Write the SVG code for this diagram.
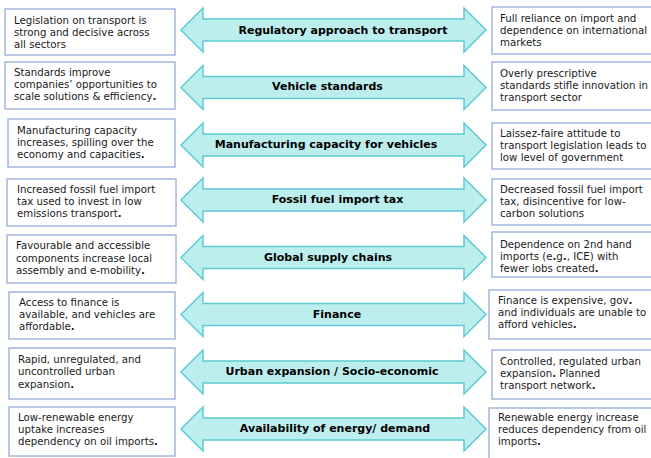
<svg xmlns="http://www.w3.org/2000/svg" width="651" height="458" viewBox="0 0 651 458">
<defs>
<style>
.bg{fill:#ffffff}
.box{fill:#ffffff;stroke:#a3b7e0;stroke-width:1.5}
.arr{fill:#bdeeee;stroke:#5ccbd3;stroke-width:1.5;stroke-linejoin:miter}
.t{font-family:"DejaVu Sans","Liberation Sans",sans-serif;font-size:10.2px;fill:#1a1a1a}
.lbl{font-family:"DejaVu Sans","Liberation Sans",sans-serif;font-size:11px;font-weight:bold;fill:#000000;text-anchor:middle}
.b{font-weight:bold}
</style>
<path id="dbl" d="M181,0 L203,-22 L203,-11 L464,-11 L464,-22 L486,0 L464,22 L464,11 L203,11 L203,22 Z"/>
</defs>
<rect class="bg" x="0" y="0" width="651" height="458"/>
<g id="connectors">
<use href="#dbl" class="arr" transform="translate(0,30)"/>
<use href="#dbl" class="arr" transform="translate(0,87.5)"/>
<use href="#dbl" class="arr" transform="translate(0,145)"/>
<use href="#dbl" class="arr" transform="translate(0,200)"/>
<use href="#dbl" class="arr" transform="translate(0,257.5)"/>
<use href="#dbl" class="arr" transform="translate(0,314.5)"/>
<use href="#dbl" class="arr" transform="translate(0,372)"/>
<use href="#dbl" class="arr" transform="translate(0,429)"/>
<text class="lbl" x="343" y="34">Regulatory approach to transport</text>
<text class="lbl" x="327.5" y="90">Vehicle standards</text>
<text class="lbl" x="326" y="148">Manufacturing capacity for vehicles</text>
<text class="lbl" x="337.5" y="203">Fossil fuel import tax</text>
<text class="lbl" x="328" y="260.5">Global supply chains</text>
<text class="lbl" x="337" y="317.5">Finance</text>
<text class="lbl" x="332" y="375">Urban expansion / Socio-economic</text>
<text class="lbl" x="335" y="432">Availability of energy/ demand</text>
</g>
<g id="left1"><rect class="box" x="5" y="9" width="170" height="46"/>
<text class="t"><tspan x="14" y="24">Legislation on transport is</tspan><tspan x="14" y="36">strong and decisive across</tspan><tspan x="14" y="47.5">all sectors</tspan></text></g>
<g id="left2"><rect class="box" x="5" y="62" width="170" height="47"/>
<text class="t"><tspan x="14" y="76">Standards improve</tspan><tspan x="14" y="88">companies’ opportunities to</tspan><tspan x="14" y="100">scale solutions &amp; efficiency<tspan class="b">.</tspan></tspan></text></g>
<g id="left3"><rect class="box" x="8" y="119" width="167" height="48"/>
<text class="t"><tspan x="17" y="133.5">Manufacturing capacity</tspan><tspan x="17" y="146">increases, spilling over the</tspan><tspan x="17" y="158">economy and capacities<tspan class="b">.</tspan></tspan></text></g>
<g id="left4"><rect class="box" x="7" y="179" width="169" height="47"/>
<text class="t"><tspan x="17" y="193">Increased fossil fuel import</tspan><tspan x="17" y="205">tax used to invest in low</tspan><tspan x="17" y="217">emissions transport<tspan class="b">.</tspan></tspan></text></g>
<g id="left5"><rect class="box" x="7" y="235" width="169" height="48"/>
<text class="t"><tspan x="16" y="249">Favourable and accessible</tspan><tspan x="16" y="261.5">components increase local</tspan><tspan x="16" y="274">assembly and e-mobility<tspan class="b">.</tspan></tspan></text></g>
<g id="left6"><rect class="box" x="9" y="292" width="166" height="47"/>
<text class="t"><tspan x="19" y="305.5">Access to finance is</tspan><tspan x="19" y="318">available, and vehicles are</tspan><tspan x="19" y="330">affordable<tspan class="b">.</tspan></tspan></text></g>
<g id="left7"><rect class="box" x="9" y="348" width="166" height="51"/>
<text class="t"><tspan x="18" y="363">Rapid, unregulated, and</tspan><tspan x="18" y="375">uncontrolled urban</tspan><tspan x="18" y="387.5">expansion<tspan class="b">.</tspan></tspan></text></g>
<g id="left8"><rect class="box" x="9" y="407" width="166" height="49"/>
<text class="t"><tspan x="18" y="421">Low-renewable energy</tspan><tspan x="18" y="433">uptake increases</tspan><tspan x="18" y="445">dependency on oil imports<tspan class="b">.</tspan></tspan></text></g>
<g id="right1"><rect class="box" x="492" y="7" width="170" height="47"/>
<text class="t"><tspan x="500" y="22">Full reliance on import and</tspan><tspan x="500" y="34">dependence on international</tspan><tspan x="500" y="46">markets</tspan></text></g>
<g id="right2"><rect class="box" x="492" y="62" width="170" height="48"/>
<text class="t"><tspan x="500" y="77">Overly prescriptive</tspan><tspan x="500" y="89">standards stifle innovation in</tspan><tspan x="500" y="101">transport sector</tspan></text></g>
<g id="right3"><rect class="box" x="492" y="123" width="170" height="46"/>
<text class="t"><tspan x="500" y="136.5">Laissez-faire attitude to</tspan><tspan x="500" y="148.5">transport legislation leads to</tspan><tspan x="500" y="161">low level of government</tspan></text></g>
<g id="right4"><rect class="box" x="492" y="179" width="170" height="46"/>
<text class="t"><tspan x="500" y="192.5">Decreased fossil fuel import</tspan><tspan x="500" y="204.5">tax, disincentive for low-</tspan><tspan x="500" y="217">carbon solutions</tspan></text></g>
<g id="right5"><rect class="box" x="492" y="232" width="170" height="45"/>
<text class="t"><tspan x="500" y="247.5">Dependence on 2nd hand</tspan><tspan x="500" y="260">imports (e<tspan class="b">.</tspan>g<tspan class="b">.</tspan>, ICE) with</tspan><tspan x="500" y="272">fewer iobs created<tspan class="b">.</tspan></tspan></text></g>
<g id="right6"><rect class="box" x="489" y="290" width="173" height="49"/>
<text class="t"><tspan x="498" y="303.5">Finance is expensive, gov<tspan class="b">.</tspan></tspan><tspan x="498" y="315.5">and individuals are unable to</tspan><tspan x="498" y="328">afford vehicles<tspan class="b">.</tspan></tspan></text></g>
<g id="right7"><rect class="box" x="492" y="350" width="170" height="49"/>
<text class="t"><tspan x="500" y="365">Controlled, regulated urban</tspan><tspan x="500" y="376.5">expansion<tspan class="b">.</tspan> Planned</tspan><tspan x="500" y="388.5">transport network<tspan class="b">.</tspan></tspan></text></g>
<g id="right8"><rect class="box" x="489" y="408" width="173" height="60"/>
<text class="t"><tspan x="498" y="421">Renewable energy increase</tspan><tspan x="498" y="433">reduces dependency from oil</tspan><tspan x="498" y="445">imports<tspan class="b">.</tspan></tspan></text></g>
</svg>
